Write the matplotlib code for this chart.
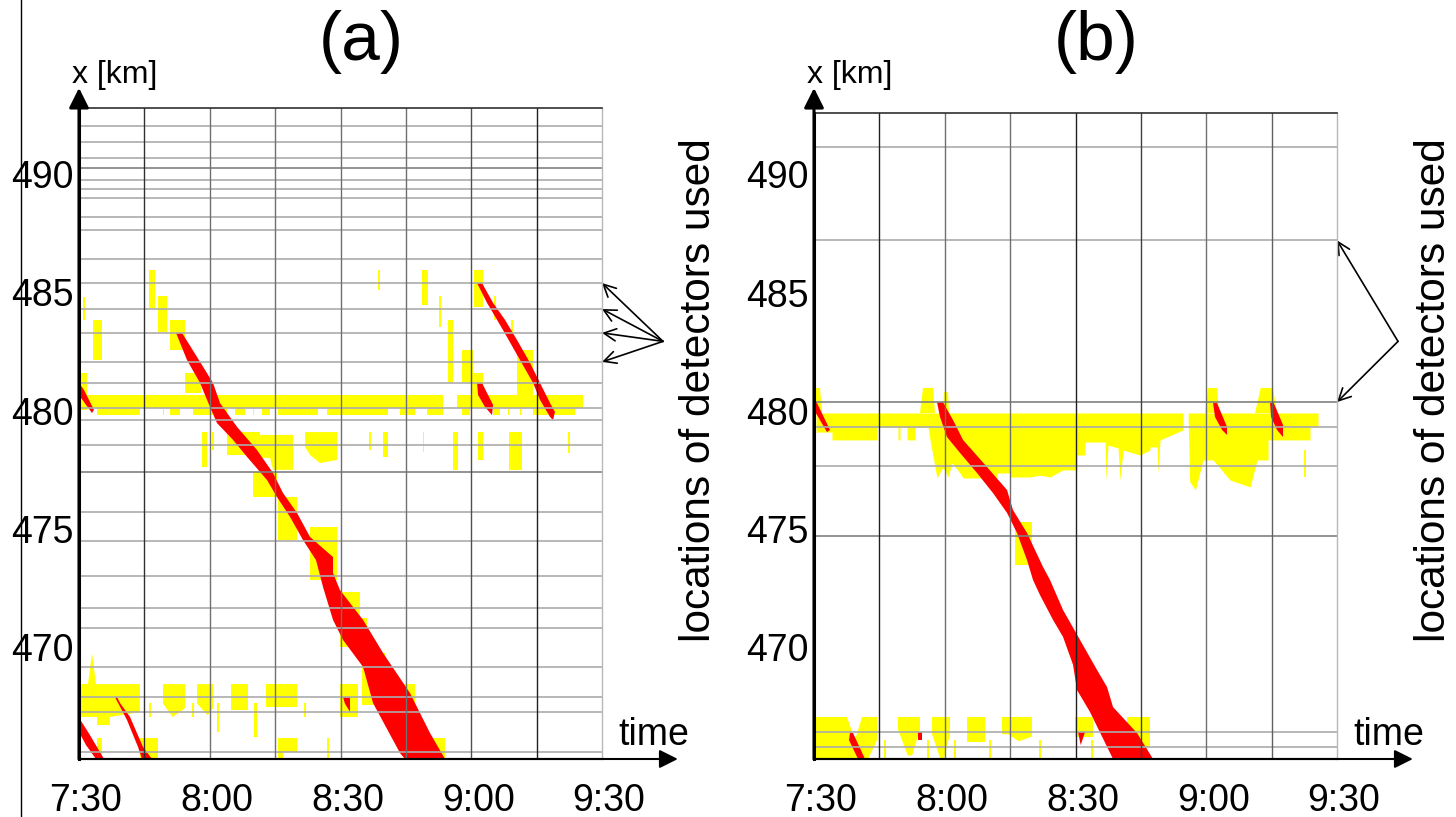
import matplotlib
matplotlib.use('Agg')
import matplotlib.pyplot as plt
from matplotlib.patches import Polygon, Rectangle
from matplotlib.lines import Line2D
from matplotlib.transforms import ScaledTranslation

plt.rcParams['font.family'] = ['Liberation Sans', 'DejaVu Sans']

YELLOW = '#ffff00'
RED = '#ff0000'

# time axis in minutes after 7:30, road location in km
time_ticks = [0, 30, 60, 90, 120]
time_labels = ['7:30', '8:00', '8:30', '9:00', '9:30']
km_ticks = [470, 475, 480, 485, 490]
quarter_hours = [15, 30, 45, 60, 75, 90, 105]

# ---------------- (a) all detectors ----------------
a_detectors = [492.05, 491.37, 490.69, 490.27, 489.76, 489.38, 489.0, 488.2,
               487.65, 486.42, 485.40, 484.30, 483.29, 482.06, 481.17, 480.11,
               479.6, 478.54, 477.40, 475.71, 474.48, 473.0, 471.64, 470.79,
               469.14, 467.87, 467.24, 465.55]
a_dark = [490.27, 477.40]
a_used = [485.40, 484.30, 483.29, 482.06]

# synchronized flow blocks: (t0, t1, x0, x1)
a_sync_boxes = [
    (0.92, 1.38, 483.84, 484.81), (3.21, 5.28, 482.14, 483.84),
    (16.06, 17.44, 484.34, 485.95), (18.13, 20.19, 483.33, 484.85),
    (20.88, 24.32, 482.57, 483.84), (24.32, 28.0, 480.75, 481.59),
    (68.5, 69.0, 485.11, 485.95), (78.71, 80.08, 484.47, 485.95),
    (82.6, 83.1, 483.54, 484.85), (84.67, 85.82, 481.21, 483.84),
    (87.88, 90.41, 481.21, 482.57), (90.18, 92.70, 480.15, 481.59),
    (90.64, 92.70, 484.38, 485.95), (95.2, 95.7, 483.84, 484.85),
    (99.2, 99.6, 482.86, 483.84), (100.5, 104.18, 480.15, 482.57),
    (0.23, 1.84, 480.03, 481.59),
    (1.84, 83.52, 480.11, 480.66), (86.74, 115.65, 480.11, 480.66),
    (28.22, 29.37, 477.61, 479.09), (30.6, 31.0, 478.33, 479.09),
    (33.96, 41.53, 478.12, 479.09), (66.6, 67.0, 478.33, 479.09),
    (69.76, 70.90, 478.04, 479.09), (78.9, 79.2, 478.25, 479.09),
    (85.82, 86.97, 477.49, 479.09), (91.56, 92.70, 477.91, 479.09),
    (98.67, 101.65, 477.49, 479.09), (112.3, 112.7, 478.21, 479.09),
    (39.93, 45.43, 476.34, 477.40), (45.66, 50.02, 474.52, 476.34),
    (53.01, 59.20, 472.83, 475.07), (59.89, 64.48, 470.0, 472.32),
    (64.02, 66.09, 470.42, 471.22), (64.94, 70.22, 467.54, 469.74),
    (72.05, 77.10, 466.69, 468.42), (81.0, 83.98, 465.25, 466.14),
    (34.88, 38.78, 467.32, 468.42), (42.91, 50.02, 467.45, 468.42),
    (59.89, 64.02, 467.03, 468.42),
    (16.1, 16.5, 467.03, 467.62), (26.0, 26.4, 467.03, 467.62),
    (31.7, 32.1, 466.4, 467.62), (40.16, 40.84, 466.2, 467.62),
    (51.7, 52.1, 467.03, 467.62),
    (4.13, 5.28, 465.25, 466.14), (14.0, 18.13, 465.25, 466.14),
    (45.66, 50.02, 465.55, 466.14), (45.66, 46.81, 465.25, 465.55),
    (57.0, 57.4, 465.25, 466.14),
]
# lower fringe of the 480 km band
a_band_skirt = [(4.13, 14.0), (19.27, 19.5), (20.88, 23.18), (26.16, 33.96),
                (35.8, 38.09), (39.93, 40.16), (41.99, 43.83), (45.66, 54.84),
                (56.91, 70.9), (73.66, 77.1), (79.85, 83.52), (87.88, 89.72),
                (95.0, 96.6), (98.44, 98.67), (101.19, 101.42), (104.18, 113.81)]
a_skirt_km = (479.81, 480.11)

a_sync_shapes = [
    [(0, 468.42), (2.06, 468.42), (2.98, 469.74), (3.9, 468.42), (14.0, 468.42),
     (14.0, 467.24), (7.11, 467.03), (7.11, 466.69), (4.13, 466.69),
     (4.13, 467.03), (0, 467.03)],
    [(19.27, 468.42), (24.32, 468.42), (24.32, 467.4), (21.5, 467.03), (19.27, 467.6)],
    [(27.08, 468.42), (30.75, 468.42), (30.75, 467.4), (29.5, 467.1), (27.08, 467.6)],
    [(41.53, 478.97), (49.1, 478.97), (49.1, 477.49), (44.52, 477.49),
     (43.83, 478.0), (41.53, 478.0)],
    [(51.86, 479.09), (59.2, 479.09), (59.2, 477.91), (55.3, 477.78),
     (53.01, 478.12), (51.86, 478.46)],
]

# wide moving jams
a_jams = [
    [(22.26, 483.29), (24.78, 482.14), (27.77, 481.17), (30.06, 480.15),
     (31.67, 479.47), (35.34, 478.76), (38.55, 478.04), (43.14, 477.06),
     (45.43, 476.34), (48.42, 475.5), (51.4, 474.52), (54.38, 473.67),
     (55.99, 472.53), (58.28, 471.14), (60.58, 470.29), (65.17, 469.15),
     (67.46, 467.62), (73.66, 465.5), (74.8, 465.25),
     (83.98, 465.25), (80.54, 466.35), (75.95, 468.04), (69.76, 469.74),
     (65.17, 471.14), (59.89, 472.4), (58.28, 473.12), (58.28, 473.8),
     (53.01, 474.65), (50.02, 475.67), (46.81, 476.51), (44.52, 477.36),
     (40.84, 478.33), (36.26, 479.31), (32.35, 480.32), (30.75, 481.17),
     (27.08, 482.27), (23.63, 483.29)],
    [(91.33, 485.4), (93.62, 484.56), (97.29, 483.41), (101.19, 482.14),
     (104.18, 481.17), (105.78, 480.45), (108.08, 479.73), (108.77, 479.6),
     (109.2, 479.94), (108.08, 480.32), (105.78, 481.17), (103.49, 482.02),
     (100.5, 482.99), (97.75, 483.84), (95.0, 484.56), (92.47, 485.4)],
    [(91.33, 481.17), (92.47, 481.17), (95.0, 480.24), (94.77, 479.81),
     (93.16, 480.15), (91.56, 480.66)],
    [(0, 481.17), (1.15, 480.87), (3.44, 480.03), (2.98, 479.9), (1.61, 480.24),
     (0, 480.66)],
    [(0, 484.26), (0.46, 484.26), (0.46, 483.92), (0, 483.92)],
    [(0, 467.0), (2.52, 466.26), (5.74, 465.25), (3.9, 465.25), (1.61, 465.84),
     (0, 466.39)],
    [(8.26, 467.87), (11.01, 466.9), (13.54, 465.76), (14.46, 465.25),
     (16.75, 465.25), (14.69, 465.76), (11.7, 467.03), (9.41, 467.62),
     (8.72, 467.87)],
    [(60.58, 467.87), (62.18, 467.87), (62.18, 467.24), (61.0, 467.6)],
]

# ---------------- (b) detectors used ----------------
b_detectors = [491.16, 487.21, 480.36, 479.3, 477.65, 474.69, 466.39, 465.76]
b_dark = [480.36, 474.69]
b_used = [487.21, 480.36]

# upper edge of the synchronized band and its lower boundary
b_band_top = 479.9
b_band = [
    (0.46, 479.09), (4.13, 479.09), (4.13, 478.76), (14.46, 478.76),
    (14.46, 479.31), (19.27, 479.31), (19.27, 478.76), (19.73, 478.76),
    (19.73, 479.31), (21.34, 479.31), (21.34, 478.76), (23.18, 478.76),
    (23.18, 479.31), (26.16, 479.31), (26.62, 478.76), (28.22, 477.15),
    (29.6, 477.61), (30.75, 477.19), (31.67, 477.78), (33.5, 477.36),
    (34.19, 477.15), (41.99, 477.15), (41.99, 477.36), (44.97, 477.36),
    (44.97, 477.19), (49.56, 477.19), (51.86, 477.27), (54.15, 477.19),
    (57.14, 477.49), (60.35, 477.49), (60.35, 478.12), (62.18, 478.12),
    (62.18, 478.67), (66.77, 478.67), (67.0, 477.06), (67.46, 478.54),
    (69.76, 478.42), (70.22, 477.06), (70.9, 478.33), (74.8, 478.12),
    (77.1, 478.33), (77.1, 478.46), (78.71, 478.46), (78.94, 477.36),
    (79.4, 478.76), (84.67, 479.18), (84.67, 479.9), (85.82, 479.9),
    (86.2, 477.0), (87.5, 476.64), (89.26, 477.91), (91.56, 477.91),
    (95.46, 477.06), (100.05, 476.77), (101.65, 477.91), (104.18, 477.91),
    (104.18, 478.76), (113.81, 478.76), (113.81, 479.31), (115.65, 479.31),
]
b_sync_boxes = [
    (46.1, 50.02, 473.46, 475.28),
    (35.11, 39.24, 465.97, 467.03), (59.89, 64.02, 466.18, 467.03),
    (71.82, 77.1, 465.76, 467.03), (112.5, 112.9, 477.19, 478.33),
    (16.1, 16.5, 465.25, 466.05), (26.0, 26.4, 465.25, 466.05),
    (32.2, 32.6, 465.25, 466.05), (40.2, 40.6, 465.25, 466.05),
    (51.7, 52.1, 465.25, 466.05), (63.6, 64.0, 465.25, 466.05),
]
b_sync_shapes = [
    [(0.46, 479.9), (0.46, 480.96), (1.38, 480.96), (1.84, 479.9)],
    [(24.32, 479.9), (25.0, 480.96), (27.31, 480.96), (27.77, 479.9)],
    [(29.6, 479.9), (29.8, 480.79), (30.75, 480.79), (31.0, 479.9)],
    [(89.72, 479.9), (90.4, 480.96), (92.47, 480.96), (92.93, 479.9)],
    [(101.19, 479.9), (102.5, 480.96), (105.3, 480.96), (106.24, 479.9)],
    [(0.46, 467.03), (7.57, 467.03), (9.4, 466.05), (11.01, 467.03),
     (14.46, 467.03), (14.46, 466.05), (12.4, 465.25), (0.46, 465.25)],
    [(19.27, 467.03), (24.32, 467.03), (24.32, 466.5), (22.5, 465.4),
     (21.5, 465.4), (19.27, 466.5)],
    [(27.08, 467.03), (31.21, 467.03), (31.21, 466.3), (29.8, 465.25),
     (29.0, 465.25), (27.08, 466.3)],
    [(43.14, 467.03), (50.02, 467.03), (50.02, 466.2), (47.0, 466.0),
     (44.5, 466.3), (43.14, 466.3)],
]
b_jams = [
    [(28.22, 480.36), (28.91, 479.73), (30.52, 478.88), (33.5, 478.21),
     (37.4, 477.36), (41.07, 476.51), (44.29, 475.67), (46.58, 474.82),
     (48.88, 473.67), (50.25, 472.83), (51.86, 472.19), (54.84, 471.14),
     (57.14, 470.42), (59.43, 469.24), (60.35, 468.17), (63.33, 467.24),
     (68.61, 465.25),
     (77.79, 465.25), (74.12, 466.35), (68.61, 467.45), (67.23, 468.3),
     (64.94, 469.02), (61.04, 470.29), (57.14, 471.56), (54.15, 472.83),
     (52.55, 473.38), (48.88, 474.82), (45.66, 475.79), (44.29, 476.64),
     (39.7, 477.61), (34.19, 478.76), (31.9, 479.6), (29.6, 480.36)],
    [(91.56, 480.32), (92.47, 480.32), (94.77, 479.31), (94.77, 478.97),
     (93.62, 479.18), (92.01, 479.73)],
    [(104.64, 480.32), (105.5, 480.32), (107.62, 479.39), (107.62, 478.88),
     (106.24, 479.18), (104.87, 479.73)],
    [(0, 480.58), (0.69, 480.32), (3.67, 479.18), (2.98, 479.09), (0, 480.03)],
    [(8.26, 466.35), (8.95, 466.35), (11.7, 465.25), (10.1, 465.25), (8.03, 466.05)],
    [(23.86, 466.39), (24.78, 466.39), (24.78, 466.05), (23.86, 466.05)],
    [(60.58, 466.39), (62.18, 466.39), (61.2, 465.84)],
]

# vertical grid shades (quarter hours) and figure geometry
a_vline_colors = ['#303030', '#707070', '#707070', '#707070', '#707070', '#505050', '#202020']
b_vline_colors = ['#202020', '#707070', '#707070', '#202020', '#404040', '#707070', '#606060']

W, H = 1456, 817
fig = plt.figure(figsize=(W / 100, H / 100), dpi=100)
fig.add_artist(Line2D([21 / W, 21 / W], [0, 1], color='black', lw=1.0))


def draw_panel(left_px, top_px, ytop, detectors, dark, used, boxes, shapes,
               jams, vcolors, title, band=None, skirt=None):
    ax = fig.add_axes([left_px / W, (H - 759) / H, 523 / W, (759 - top_px) / H])
    ax.set_xlim(0, 120)
    ax.set_ylim(465.25, ytop)

    for t0, t1, x0, x1 in boxes:
        ax.add_patch(Rectangle((t0, x0), t1 - t0, x1 - x0, facecolor=YELLOW,
                               edgecolor='none', zorder=1))
    if skirt is not None:
        spans, (k0, k1) = skirt
        for t0, t1 in spans:
            ax.add_patch(Rectangle((t0, k0), t1 - t0, k1 - k0, facecolor=YELLOW,
                                   edgecolor='none', zorder=1))
    if band is not None:
        tb = [p[0] for p in band]
        lo = [p[1] for p in band]
        ax.fill_between(tb, lo, b_band_top, color=YELLOW, lw=0, zorder=1)
    for pts in shapes:
        ax.add_patch(Polygon(pts, closed=True, facecolor=YELLOW,
                             edgecolor='none', zorder=1))
    for pts in jams:
        ax.add_patch(Polygon(pts, closed=True, facecolor=RED,
                             edgecolor='none', zorder=2))

    for k in detectors:
        ax.axhline(k, color='#808080' if k in dark else '#ababab',
                   lw=1.2, zorder=3)
    for t, c in zip(quarter_hours, vcolors):
        ax.axvline(t, color=c, lw=1.0, zorder=3)

    for side in ('left', 'bottom', 'top', 'right'):
        ax.spines[side].set_zorder(4)
    ax.spines['left'].set_linewidth(2.2)
    ax.spines['bottom'].set_linewidth(1.5)
    ax.spines['top'].set_color('#303030')
    ax.spines['top'].set_linewidth(1.2)
    ax.spines['right'].set_color('#b8b8b8')
    ax.spines['right'].set_linewidth(1.0)

    ax.set_yticks(km_ticks)
    ax.set_yticklabels([str(k) for k in km_ticks])
    ax.set_xticks(time_ticks)
    ax.set_xticklabels(time_labels)
    ax.tick_params(axis='y', length=0, pad=4, labelsize=27)
    ax.tick_params(axis='x', length=0, pad=17, labelsize=27)
    shift = ScaledTranslation(7 / 100, 0, fig.dpi_scale_trans)
    for lab in ax.get_xticklabels():
        lab.set_transform(lab.get_transform() + shift)

    # axis arrows
    ax.annotate('', xy=(0, 493.66), xytext=(0, 465.25),
                arrowprops=dict(arrowstyle='-|>', color='black', lw=2.2,
                                mutation_scale=30, shrinkA=0, shrinkB=0),
                annotation_clip=False, zorder=5)
    ax.annotate('', xy=(137.4, 465.25), xytext=(0, 465.25),
                arrowprops=dict(arrowstyle='-|>', color='black', lw=1.5,
                                mutation_scale=28, shrinkA=0, shrinkB=0),
                annotation_clip=False, zorder=5)

    # detectors used
    for k in used:
        ax.annotate('', xy=(120, k), xytext=(134.0, 482.93),
                    arrowprops=dict(arrowstyle='->', color='black', lw=1.2,
                                    mutation_scale=22, shrinkA=0, shrinkB=0),
                    annotation_clip=False)

    ax.text(8.2, 494.21, 'x [km]', fontsize=23, ha='center', va='center',
            clip_on=False)
    ax.text(131.8, 465.84, 'time', fontsize=27, ha='center', va='baseline',
            clip_on=False)
    ax.text(142.3, 480.87, 'locations of detectors used', fontsize=30.5,
            rotation=90, ha='center', va='center', clip_on=False)
    ax.text(64.7, 495.6, title, fontsize=50, ha='center', va='center',
            clip_on=False)
    return ax


draw_panel(79, 108, 492.81, a_detectors, a_dark, a_used, a_sync_boxes,
           a_sync_shapes, a_jams, a_vline_colors, '(a)',
           skirt=(a_band_skirt, a_skirt_km))
draw_panel(814, 113, 492.60, b_detectors, b_dark, b_used, b_sync_boxes,
           b_sync_shapes, b_jams, b_vline_colors, '(b)', band=b_band)

fig.savefig('out.png', dpi=100)
